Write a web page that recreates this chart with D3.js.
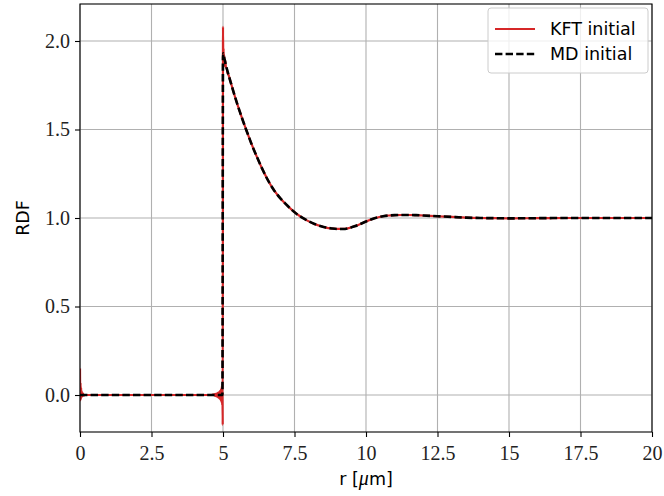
<!DOCTYPE html>
<html>
<head>
<meta charset="utf-8">
<script src="https://cdn.jsdelivr.net/npm/d3@7"></script>
<style>
  html, body { margin: 0; padding: 0; background: #fff; }
  svg { display: block; }
</style>
</head>
<body>
<svg id="chart" width="664" height="496"></svg>
<script>
// Radial distribution function: MD reference vs. KFT reconstruction
const mdR = [0, 1, 2, 3, 4, 4.98, 5.0, 5.05, 5.1, 5.2, 5.3, 5.4, 5.5, 5.6, 5.7, 5.8, 5.9,
  6.0, 6.2, 6.4, 6.6, 6.8, 7.0, 7.2, 7.4, 7.6, 7.8, 8.0, 8.2, 8.4, 8.6, 8.8, 9.0, 9.2,
  9.4, 9.6, 9.8, 10.0, 10.2, 10.4, 10.6, 10.8, 11.0, 11.25, 11.5, 11.75, 12.0, 12.5,
  13.0, 13.5, 14.0, 14.5, 15, 16, 17, 18, 19, 20];
const mdG = [0, 0, 0, 0, 0, 0, 1.93, 1.90, 1.865, 1.805, 1.75, 1.695, 1.643, 1.595, 1.548,
  1.503, 1.46, 1.417, 1.34, 1.268, 1.205, 1.153, 1.112, 1.078, 1.047, 1.02, 0.999,
  0.981, 0.966, 0.955, 0.946, 0.941, 0.938, 0.938, 0.943, 0.953, 0.966, 0.98, 0.993,
  1.003, 1.01, 1.014, 1.016, 1.017, 1.017, 1.016, 1.014, 1.01, 1.006, 1.002, 1.0,
  0.999, 0.998, 0.999, 1.0, 1.0, 1.0, 1.0];

// KFT curve: ringing at the origin, flat core, ringing before the contact jump, peak
const kftOriginR = [0, 0.01, 0.02, 0.03, 0.04, 0.05, 0.06, 0.08, 0.10, 0.13, 0.17, 1, 2, 3, 4, 4.6];
const kftOriginG = [0.15, -0.03, 0.07, -0.025, 0.04, -0.015, 0.02, -0.008, 0.009, -0.003, 0, 0, 0, 0, 0, 0];
const kftJumpR = [4.70, 4.71, 4.72, 4.73, 4.74, 4.75, 4.76, 4.77, 4.78, 4.79, 4.80, 4.81,
  4.82, 4.83, 4.84, 4.85, 4.86, 4.87, 4.88, 4.89, 4.90, 4.91, 4.92, 4.93, 4.94, 4.95,
  4.96, 4.97, 4.98, 4.99];
const kftJumpG = [0.004, -0.004, 0.005, -0.005, 0.006, -0.006, 0.007, -0.007, 0.008, -0.009,
  0.010, -0.011, 0.012, -0.013, 0.014, -0.015, 0.017, -0.018, 0.020, -0.022, 0.024,
  -0.027, 0.030, -0.034, 0.038, -0.043, 0.05, -0.058, 0.065, -0.17];
const kftPeakR = [5.0, 5.01, 5.02, 5.03, 5.04, 5.06, 5.08, 5.1, 5.13, 5.16];
const kftPeakG = [2.08, 1.86, 1.96, 1.87, 1.92, 1.86, 1.89, 1.855, 1.845, 1.82];

const xTicks = [0, 2.5, 5, 7.5, 10, 12.5, 15, 17.5, 20];
const xTickLabels = ["0", "2.5", "5", "7.5", "10", "12.5", "15", "17.5", "20"];
const yTicks = [0, 0.5, 1.0, 1.5, 2.0];
const yTickLabels = ["0.0", "0.5", "1.0", "1.5", "2.0"];
const seriesNames = ["KFT initial", "MD initial"];

const md = mdR.map((r, i) => ({ r, g: mdG[i] }));
const kft = []
  .concat(kftOriginR.map((r, i) => ({ r, g: kftOriginG[i] })))
  .concat(kftJumpR.map((r, i) => ({ r, g: kftJumpG[i] })))
  .concat(kftPeakR.map((r, i) => ({ r, g: kftPeakG[i] })))
  .concat(md.filter(d => d.r >= 5.2));

const margin = { left: 80, right: 12, top: 4, bottom: 64 };
const W = 664, H = 496;
const svg = d3.select("#chart");

const x = d3.scaleLinear().domain([0, 20]).range([margin.left, W - margin.right]);
const y = d3.scaleLinear().domain([-0.209, 2.209]).range([H - margin.bottom, margin.top]);

const serif = "'Liberation Serif', 'DejaVu Serif', serif";
const sans = "'DejaVu Sans', 'Noto Sans', sans-serif";

// grid
const grid = svg.append("g").attr("stroke", "#b0b0b0").attr("stroke-width", 1.1);
grid.selectAll("line.gx").data(xTicks).join("line")
  .attr("x1", d => x(d)).attr("x2", d => x(d))
  .attr("y1", y.range()[1]).attr("y2", y.range()[0]);
grid.selectAll("line.gy").data(yTicks).join("line")
  .attr("y1", d => y(d)).attr("y2", d => y(d))
  .attr("x1", x.range()[0]).attr("x2", x.range()[1]);

// clip region
svg.append("clipPath").attr("id", "plotclip").append("rect")
  .attr("x", x.range()[0]).attr("y", y.range()[1])
  .attr("width", x.range()[1] - x.range()[0]).attr("height", y.range()[0] - y.range()[1]);

const line = d3.line().x(d => x(d.r)).y(d => y(d.g)).curve(d3.curveMonotoneX);

const plot = svg.append("g").attr("clip-path", "url(#plotclip)");
plot.append("path").datum(kft)
  .attr("fill", "none").attr("stroke", "#d62728").attr("stroke-width", 2.2)
  .attr("stroke-linejoin", "round").attr("d", line);
plot.append("path").datum(md)
  .attr("fill", "none").attr("stroke", "#000").attr("stroke-width", 2.6)
  .attr("stroke-dasharray", "7.4,3.2").attr("d", line);

// axes
const xAxis = d3.axisBottom(x).tickValues(xTicks).tickFormat((d, i) => xTickLabels[i])
  .tickSize(5).tickPadding(5);
const yAxis = d3.axisLeft(y).tickValues(yTicks).tickFormat((d, i) => yTickLabels[i])
  .tickSize(5).tickPadding(5);

const gx = svg.append("g").attr("transform", `translate(0,${y.range()[0]})`).call(xAxis);
const gy = svg.append("g").attr("transform", `translate(${x.range()[0]},0)`).call(yAxis);
[gx, gy].forEach(g => {
  g.select(".domain").remove();
  g.selectAll(".tick line").attr("stroke", "#000").attr("stroke-width", 1.1);
  g.selectAll(".tick text").attr("font-family", serif).attr("font-size", 20).attr("fill", "#222");
});
gx.selectAll(".tick text").attr("dy", "0.9em");

// frame
svg.append("rect")
  .attr("x", x.range()[0]).attr("y", y.range()[1])
  .attr("width", x.range()[1] - x.range()[0]).attr("height", y.range()[0] - y.range()[1])
  .attr("fill", "none").attr("stroke", "#000").attr("stroke-width", 1.1);

// axis labels
const xl = svg.append("text")
  .attr("x", (x.range()[0] + x.range()[1]) / 2).attr("y", 485)
  .attr("text-anchor", "middle").attr("font-family", sans).attr("font-size", 17.5);
xl.append("tspan").text("r [");
xl.append("tspan").attr("font-family", serif).attr("font-style", "italic").attr("font-size", 20).text("μ");
xl.append("tspan").text("m]");

svg.append("text")
  .attr("transform", `translate(29,${(y.range()[0] + y.range()[1]) / 2}) rotate(-90)`)
  .attr("text-anchor", "middle").attr("font-family", sans).attr("font-size", 17.5)
  .text("RDF");

// legend
const lg = svg.append("g");
lg.append("rect").attr("x", 488).attr("y", 8).attr("width", 160).attr("height", 65)
  .attr("rx", 3).attr("fill", "#fff").attr("fill-opacity", 0.8)
  .attr("stroke", "#cccccc").attr("stroke-width", 1);
const entries = [
  { name: seriesNames[0], color: "#d62728", dash: null, w: 2.2 },
  { name: seriesNames[1], color: "#000", dash: "7.4,3.2", w: 2.6 }
];
entries.forEach((e, i) => {
  const cy = 29 + i * 25;
  lg.append("line").attr("x1", 495).attr("x2", 535).attr("y1", cy).attr("y2", cy)
    .attr("stroke", e.color).attr("stroke-width", e.w)
    .attr("stroke-dasharray", e.dash);
  lg.append("text").attr("x", 550).attr("y", cy + 6)
    .attr("font-family", sans).attr("font-size", 17.5).attr("fill", "#000")
    .text(e.name);
});
</script>
</body>
</html>
